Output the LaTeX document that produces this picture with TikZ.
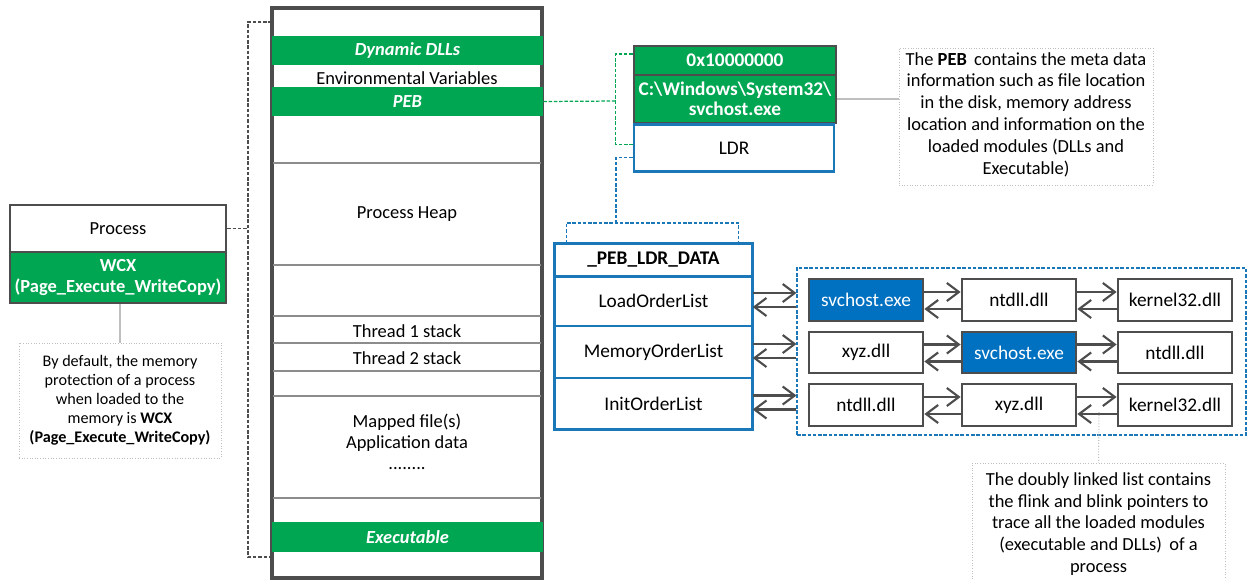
\documentclass[tikz,border=0pt]{standalone}
\usepackage{fontspec}
\setmainfont{Carlito}
\usetikzlibrary{arrows.meta}
\definecolor{memgreen}{HTML}{00A651}
\definecolor{ldrblue}{HTML}{1A78B8}
\definecolor{modblue}{HTML}{0070C0}
\definecolor{boxgray}{HTML}{4D4D4D}
\definecolor{linegray}{HTML}{8C8C8C}
\begin{document}
\begin{tikzpicture}[x=0.02cm,y=-0.02cm,font=\fontsize{10.5}{12.5}\selectfont,
    band/.style={fill=memgreen,text=white,font=\fontsize{10.5}{12.5}\selectfont\bfseries\itshape,
        minimum width=5.42cm,inner sep=0pt},
    sepline/.style={linegray,line width=0.9pt},
    bracket/.style={boxgray,line width=0.7pt,dash pattern=on 2pt off 1pt},
    greenlink/.style={memgreen,line width=0.7pt,dash pattern=on 2pt off 1pt},
    bluelink/.style={ldrblue,line width=0.7pt,dash pattern=on 2pt off 1pt},
    notelink/.style={gray!50,line width=0.6pt},
    notebox/.style={draw=gray!50,densely dotted,line width=0.5pt,align=center,inner sep=2pt},
    pebrow/.style={draw=boxgray,line width=1.6pt,fill=memgreen,text=white,
        font=\fontsize{11}{13}\selectfont\bfseries,minimum width=4.04cm,inner sep=0pt,align=center},
    ldrrow/.style={draw=ldrblue,line width=0.8pt,minimum width=3.94cm,inner sep=0pt,
        font=\fontsize{11}{13}\selectfont},
    module/.style={draw=boxgray,line width=1.6pt,minimum width=2.28cm,minimum height=0.84cm,
        inner sep=0pt,font=\fontsize{11}{13}\selectfont},
    current/.style={module,fill=modblue,text=white},
    ptr/.style={boxgray,line width=1.2pt,-{Straight Barb[length=0.24cm,width=0.36cm]}}]
\useasboundingbox (0,0) rectangle (1248,579);

\node[draw=boxgray,line width=1.8pt,minimum width=5.4cm,minimum height=11.4cm] (mem) at (407,293) {};
\node[band,minimum height=0.58cm] (dllband) at (407.5,50.5) {Dynamic DLLs};
\node (envvar) at (407,78) {Environmental Variables};
\node[band,minimum height=0.58cm] (pebband) at (407.5,101.5) {PEB};
\draw[sepline] (273,163) -- (541,163);
\node (heap) at (407,214) {Process Heap};
\draw[sepline] (273,265) -- (541,265);
\draw[sepline] (273,316) -- (541,316);
\node (thread1) at (407,331) {Thread 1 stack};
\draw[sepline] (273,343) -- (541,343);
\node (thread2) at (407,358) {Thread 2 stack};
\draw[sepline] (273,371) -- (541,371);
\draw[sepline] (273,396) -- (541,396);
\node[align=center,font=\fontsize{10.5}{12}\selectfont] (mapped) at (407,442) {Mapped file(s)\\Application data\\........};
\draw[sepline] (273,498) -- (541,498);
\node[band,minimum height=0.6cm] (execband) at (407.5,537) {Executable};

\node[draw=boxgray,line width=1.6pt,minimum width=4.32cm,minimum height=0.94cm] (proc) at (118,228.5) {Process};
\node[draw=boxgray,line width=1.6pt,fill=memgreen,text=white,font=\fontsize{10.5}{12}\selectfont\bfseries,
    minimum width=4.32cm,minimum height=1.02cm,inner sep=0pt,align=center] (wcx) at (118,277.5)
    {WCX\\(Page\_Execute\_WriteCopy)};
\coordinate (memtop) at (272,22);
\coordinate (membot) at (272,557);
\draw[bracket] (memtop) -- ++(-24,0) |- (membot);
\draw[bracket] (proc.east) -- (proc.east -| 248,0);
\node[notebox,font=\fontsize{9.2}{10.8}\selectfont,minimum width=4.04cm,minimum height=2.3cm] (protnote) at (120,400.5)
    {By default, the memory\\protection of a process\\when loaded to the\\memory is \textbf{WCX}\\\textbf{(Page\_Execute\_WriteCopy)}};
\draw[notelink] (wcx.south -| protnote.north) -- (protnote.north);

\node[pebrow,minimum height=0.58cm] (addr) at (735,60.5) {0x10000000};
\node[pebrow,minimum height=0.96cm,font=\fontsize{11}{11.5}\selectfont\bfseries] (path) at (735,99) {C:\textbackslash Windows\textbackslash System32\textbackslash\\svchost.exe};
\node[draw=ldrblue,line width=1.6pt,minimum width=4.0cm,minimum height=0.95cm,font=\fontsize{11}{13}\selectfont] (ldr) at (734,148) {LDR};
\coordinate (pebfork) at (617,101);
\draw[greenlink] (pebband.east) -- (pebfork);
\draw[greenlink] ([yshift=0.13cm]addr.west) -- ++(-17,0) |- ([yshift=0.07cm]ldr.west);
\node[notebox,minimum width=5.08cm,minimum height=2.74cm,text depth=0.12cm] (pebnote) at (1026,116.5)
    {The \textbf{PEB}\, contains the meta data\\information such as file location\\in the disk, memory address\\location and information on the\\loaded modules (DLLs and\\Executable)};
\draw[notelink] (path.east) -- (path.east -| pebnote.west);

\node[ldrrow,minimum height=0.64cm,font=\fontsize{11}{13}\selectfont\bfseries] (ldrhead) at (653.5,260) {\_PEB\_LDR\_DATA};
\node[ldrrow,minimum height=1.0cm] (loadlist) at (653.5,301) {LoadOrderList};
\node[ldrrow,minimum height=1.04cm] (memlist) at (653.5,352) {MemoryOrderList};
\node[ldrrow,minimum height=1.02cm] (initlist) at (653.5,403.5) {InitOrderList};
\draw[ldrblue,line width=1.6pt] (ldrhead.north west) rectangle (initlist.south east);
\draw[ldrblue,line width=1.6pt] (ldrhead.south west) -- (ldrhead.south east);
\coordinate (ldrfork) at (616,223);
\draw[bluelink] ([yshift=-0.19cm]ldr.west) -| (ldrfork);
\draw[bluelink] ([xshift=0.24cm]ldrhead.north west) |- ([xshift=-0.28cm]ldrhead.north east |- ldrfork) -- ([xshift=-0.28cm]ldrhead.north east);

\node[draw=ldrblue,line width=0.7pt,dash pattern=on 2pt off 1pt,minimum width=8.98cm,minimum height=3.34cm] (lists) at (1021.5,351.5) {};

\node[current] (loadexe) at (866,300) {svchost.exe};
\node[module] (loadntdll) at (1019,300) {ntdll.dll};
\node[module] (loadkernel) at (1175,300) {kernel32.dll};
\node[module,minimum height=0.82cm] (memxyz) at (866,352.5) {xyz.dll};
\node[current,minimum height=0.82cm] (memexe) at (1019,352.5) {svchost.exe};
\node[module,minimum height=0.82cm] (memntdll) at (1175,352.5) {ntdll.dll};
\node[module] (initntdll) at (866,405) {ntdll.dll};
\node[module] (initxyz) at (1019,405) {xyz.dll};
\node[module] (initkernel) at (1175,405) {kernel32.dll};

\foreach \a/\b in {loadlist/lists,memlist/lists,initlist/lists}{
    \draw[ptr] ([yshift=0.16cm]\a.east) -- ([yshift=0.16cm]\a.east -| \b.west);
    \draw[ptr] ([yshift=-0.12cm]\a.east -| \b.west) -- ([yshift=-0.12cm]\a.east);
}
\foreach \a/\b in {loadexe/loadntdll,loadntdll/loadkernel,memxyz/memexe,memexe/memntdll,initntdll/initxyz,initxyz/initkernel}{
    \draw[ptr] ([yshift=0.16cm]\a.east) -- ([yshift=0.16cm]\b.west);
    \draw[ptr] ([yshift=-0.18cm]\b.west) -- ([yshift=-0.18cm]\a.east);
}

\node[notebox,anchor=north,inner ysep=5pt,minimum width=5.06cm,minimum height=2.8cm,text depth=1.4cm] (listnote) at (1098.5,463)
    {The doubly linked list contains\\the flink and blink pointers to\\trace all the loaded modules\\(executable and DLLs)\, of a\\process};
\coordinate (blinkpt) at (1099,412);
\draw[notelink,densely dotted] (blinkpt) -- (listnote.north);
\end{tikzpicture}
\end{document}
